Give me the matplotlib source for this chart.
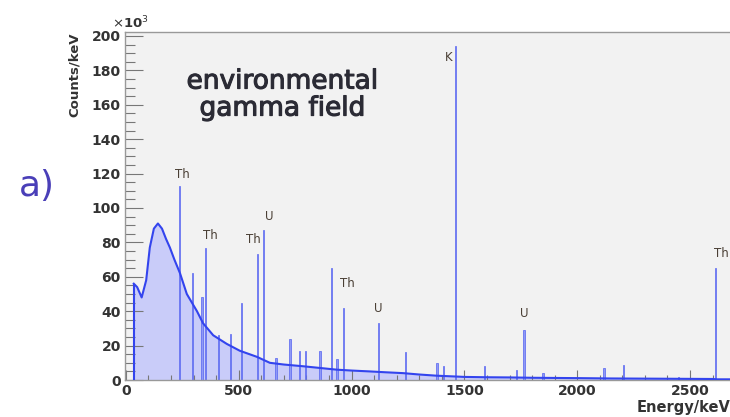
import numpy as np
import matplotlib
matplotlib.use("Agg")
import matplotlib.pyplot as plt
import matplotlib.patheffects as pe
from matplotlib.ticker import MultipleLocator

# continuum of the environmental spectrum (keV, counts/keV in units of 1e3)
cont_energy = [35, 50, 70, 90, 106, 124, 142, 160, 178, 195, 215, 240, 270, 315, 342,
               387, 447, 505, 580, 638, 700, 785, 860, 935, 1000, 1080, 1150, 1228,
               1300, 1378, 1467, 1500, 1600, 1700, 1800, 1900, 2000, 2150, 2300, 2450,
               2600, 2620, 2700]
cont_counts = [56, 54, 48, 58, 77, 88, 91, 88, 82, 77, 70, 62, 50, 40, 33,
               26, 21, 17, 13.5, 10, 9, 8, 7, 6, 5.5, 5, 4.5, 4,
               3.2, 2.5, 2, 1.8, 1.6, 1.5, 1.3, 1.2, 1.1, 0.9, 0.8, 0.7,
               0.6, 0.4, 0.4]

# gamma lines on top of the continuum
peak_energy = [238, 295, 338, 352, 409, 463, 511, 583, 609, 665, 727, 768, 795, 860,
               911, 935, 965, 1120, 1238, 1378, 1408, 1461, 1588, 1730, 1764, 1848,
               2118, 2204, 2448, 2614]
peak_counts = [113, 62, 48, 77, 26, 27, 45, 73, 87, 13, 24, 17, 17, 17,
               65, 12, 42, 33, 16, 10, 8, 194, 8, 6, 29, 4,
               7, 9, 2, 65]

# nuclide tags: energy of the tagged line, text
tag_energy = [238, 352, 583, 609, 965, 1120, 1461, 1764, 2614]
tag_text = ["Th", "Th", "Th", "U", "Th", "U", "K", "U", "Th"]
# label offsets in pixels (dx, dy) from the top of each line
tag_offset = [(3, 11), (5, 12), (-4, 15), (6, 14), (4, 24), (0, 15), (-7, -11), (0, 17), (6, 15)]

fig = plt.figure(figsize=(7.3, 4.17), dpi=100)
ax = fig.add_axes([0.1712, 0.0887, 0.8288, 0.8345])
ax.set_facecolor("#f2f2f2")

fill_col = "#c9ccf9"
line_col = "#3344ee"

ax.fill_between(cont_energy, cont_counts, 0, color=fill_col, lw=0, zorder=1)
ax.plot(cont_energy, cont_counts, color=line_col, lw=1.5, zorder=3)
ax.vlines(cont_energy[0], 0, cont_counts[0], color=line_col, lw=1.5, zorder=3)
ax.bar(peak_energy, peak_counts, width=6, color="#8f99f6", edgecolor="#5563f0",
       linewidth=0.5, zorder=2)

peak_top = dict(zip(peak_energy, peak_counts))
for e, t, (dx, dy) in zip(tag_energy, tag_text, tag_offset):
    ax.annotate(t, (e, peak_top[e]), xytext=(dx, dy), textcoords="offset pixels",
                ha="center", va="center", fontsize=8.5, color="#4a3f35", zorder=4)

ax.set_xlim(-4, 2677)
ax.set_ylim(0, 202.3)

ax.xaxis.set_major_locator(MultipleLocator(500))
ax.xaxis.set_minor_locator(MultipleLocator(100))
ax.yaxis.set_major_locator(MultipleLocator(20))
ax.yaxis.set_minor_locator(MultipleLocator(5))
ax.tick_params(axis="y", which="major", direction="in", length=13, width=0.8, color="#777777")
ax.tick_params(axis="y", which="minor", direction="in", length=7, width=0.8, color="#777777")
ax.tick_params(axis="x", which="major", direction="in", length=7, width=0.8, color="#777777")
ax.tick_params(axis="x", which="minor", direction="in", length=3.5, width=0.8, color="#777777")
ax.tick_params(axis="both", labelsize=10, labelcolor="#333333", pad=3)
for lab in ax.get_xticklabels() + ax.get_yticklabels():
    lab.set_fontweight("bold")

for side in ["left", "bottom", "top"]:
    ax.spines[side].set_color("#999999")
    ax.spines[side].set_linewidth(1.0)
ax.spines["right"].set_visible(False)

ax.text(-0.083, 1.0, "Counts/keV", transform=ax.transAxes, rotation=90,
        ha="center", va="top", fontsize=9.5, fontweight="bold", color="#333333")
ax.text(-0.022, 1.003, r"$\times$10$^{3}$", transform=ax.transAxes,
        ha="left", va="bottom", fontsize=9.5, fontweight="bold", color="#333333")
ax.text(1.0, -0.058, "Energy/keV", transform=ax.transAxes,
        ha="right", va="top", fontsize=10.5, fontweight="bold", color="#333333")

# slightly heavier strokes for the caption
heavy = [pe.withStroke(linewidth=0.8, foreground="#2b2b35")]
fig.text(0.387, 0.772, "environmental\ngamma field", ha="center", va="center",
         fontsize=19, color="#2b2b35", linespacing=1.05, path_effects=heavy)
fig.text(0.05, 0.555, "a)", ha="center", va="center", fontsize=26, color="#4a3fb8")

fig.savefig("out.png", dpi=100)
